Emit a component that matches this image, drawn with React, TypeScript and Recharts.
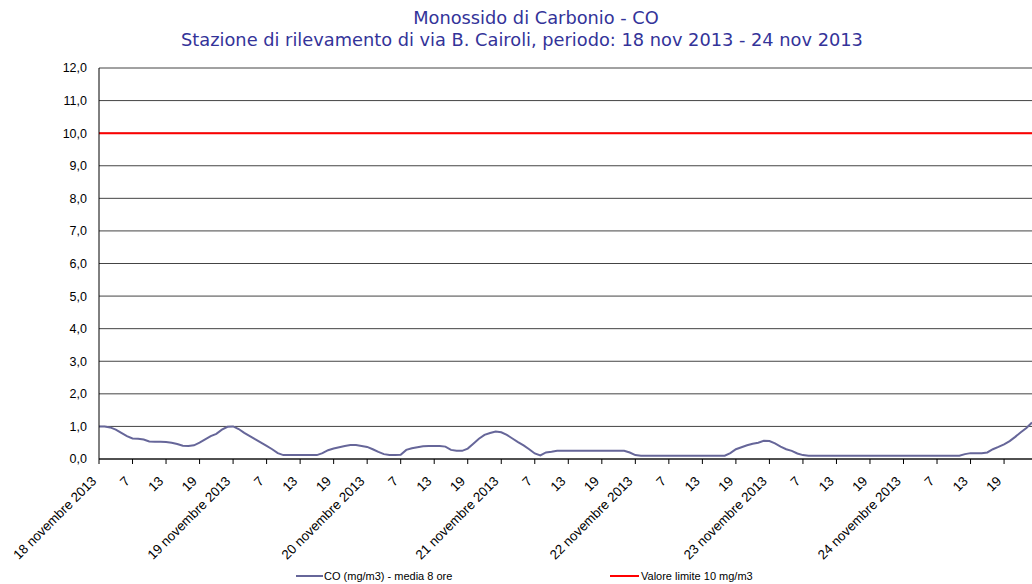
import { CartesianGrid, Legend, Line, LineChart, XAxis, YAxis } from "recharts";

// CO media mobile 8 ore, valori orari dal 18 al 24 novembre 2013 (mg/m3)
const co = [
    // 18 nov
    1.0, 1.0, 0.97, 0.9, 0.8, 0.7, 0.63, 0.62, 0.6, 0.54, 0.53, 0.53,
    0.52, 0.5, 0.46, 0.41, 0.4, 0.42, 0.5, 0.6, 0.7, 0.77, 0.9, 0.99,
    // 19 nov
    1.0, 0.92, 0.8, 0.7, 0.6, 0.5, 0.4, 0.3, 0.18, 0.12, 0.12, 0.12,
    0.12, 0.12, 0.12, 0.12, 0.18, 0.27, 0.32, 0.36, 0.4, 0.43, 0.43, 0.4,
    // 20 nov
    0.37, 0.3, 0.22, 0.15, 0.12, 0.12, 0.13, 0.28, 0.33, 0.36, 0.39, 0.4,
    0.4, 0.4, 0.38, 0.28, 0.25, 0.25, 0.32, 0.47, 0.62, 0.74, 0.8, 0.84,
    // 21 nov
    0.82, 0.74, 0.63, 0.52, 0.42, 0.3, 0.17, 0.11, 0.2, 0.22, 0.25, 0.25,
    0.25, 0.25, 0.25, 0.25, 0.25, 0.25, 0.25, 0.25, 0.25, 0.25, 0.25, 0.2,
    // 22 nov
    0.12, 0.1, 0.1, 0.1, 0.1, 0.1, 0.1, 0.1, 0.1, 0.1, 0.1, 0.1,
    0.1, 0.1, 0.1, 0.1, 0.1, 0.18, 0.3, 0.36, 0.42, 0.47, 0.5, 0.56,
    // 23 nov
    0.55, 0.48, 0.38, 0.3, 0.25, 0.17, 0.12, 0.1, 0.1, 0.1, 0.1, 0.1,
    0.1, 0.1, 0.1, 0.1, 0.1, 0.1, 0.1, 0.1, 0.1, 0.1, 0.1, 0.1,
    // 24 nov
    0.1, 0.1, 0.1, 0.1, 0.1, 0.1, 0.1, 0.1, 0.1, 0.1, 0.1, 0.15,
    0.18, 0.18, 0.18, 0.2, 0.3, 0.37, 0.45, 0.55, 0.68, 0.82, 0.95, 1.12,
];

const limite = 10;

const giorni = [
    "18 novembre 2013",
    "19 novembre 2013",
    "20 novembre 2013",
    "21 novembre 2013",
    "22 novembre 2013",
    "23 novembre 2013",
    "24 novembre 2013",
];
const ore = ["7", "13", "19"];

const yTicks = [0, 1, 2, 3, 4, 5, 6, 7, 8, 9, 10, 11, 12];

const data = co.map((v, i) => ({ h: i, co: v, limite }));

const tickLabel = (i: number) => {
    const day = Math.floor(i / 24);
    const slot = (i % 24) / 6;
    return slot === 0 ? giorni[day] : ore[slot - 1];
};

const font = '"Liberation Sans", Arial, sans-serif';

const XTick = ({ x, y, payload }: any) => (
    <g transform={`translate(${x},${y})`}>
        <text
            x={-12.5}
            y={10}
            textAnchor="end"
            transform="rotate(-45)"
            fontSize={13.3}
            fontFamily={font}
            fill="#000"
        >
            {tickLabel(payload.value)}
        </text>
    </g>
);

const LegendBox = () => (
    <div
        style={{
            position: "relative",
            height: 18,
            fontFamily: font,
            fontSize: 11,
            color: "#000",
        }}
    >
        <span style={{ position: "absolute", left: 296, top: 4, display: "flex", alignItems: "center" }}>
            <span style={{ width: 27, height: 2, background: "#666699", marginRight: 1 }} />
            CO (mg/m3) - media 8 ore
        </span>
        <span style={{ position: "absolute", left: 610, top: 4, display: "flex", alignItems: "center" }}>
            <span style={{ width: 29, height: 2, background: "#ff0000", marginRight: 2 }} />
            Valore limite 10 mg/m3
        </span>
    </div>
);

export default function App() {
    return (
        <div style={{ position: "absolute", left: 0, top: 0, width: 1032, height: 584, background: "#fff" }}>
            <div
                style={{
                    position: "absolute",
                    top: 7,
                    left: 6,
                    width: 1032,
                    textAlign: "center",
                    color: "#333399",
                    fontFamily: '"DejaVu Sans", "Liberation Sans", sans-serif',
                    fontSize: 17.8,
                    lineHeight: "22px",
                }}
            >
                <div style={{ paddingLeft: 28 }}>Monossido di Carbonio - CO</div>
                <div>Stazione di rilevamento di via B. Cairoli, periodo: 18 nov 2013 - 24 nov 2013</div>
            </div>
            <LineChart width={1032} height={584} data={data} margin={{ top: 68, right: 0, left: 0, bottom: 0 }}>
                <CartesianGrid vertical={false} stroke="#444" strokeWidth={1} />
                <XAxis
                    dataKey="h"
                    interval={5}
                    tick={<XTick />}
                    tickSize={5}
                    height={107}
                    stroke="#000"
                />
                <YAxis
                    domain={[0, 12]}
                    ticks={yTicks}
                    width={99}
                    tickLine={false}
                    tickSize={0}
                    tickMargin={12}
                    stroke="#000"
                    tick={{ fontSize: 12.5, fontFamily: font, fill: "#000" }}
                    tickFormatter={(v: number) => v.toFixed(1).replace(".", ",")}
                />
                <Legend verticalAlign="bottom" content={<LegendBox />} />
                <Line
                    type="linear"
                    dataKey="co"
                    stroke="#666699"
                    strokeWidth={2}
                    dot={false}
                    isAnimationActive={false}
                />
                <Line
                    type="linear"
                    dataKey="limite"
                    stroke="#ff0000"
                    strokeWidth={2}
                    dot={false}
                    isAnimationActive={false}
                />
            </LineChart>
        </div>
    );
}
